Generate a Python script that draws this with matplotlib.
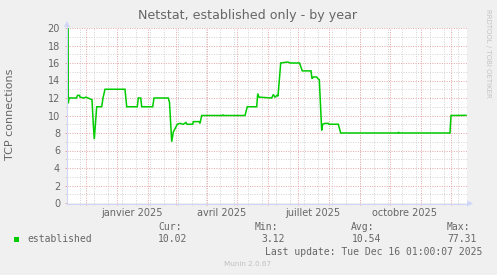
import matplotlib
matplotlib.use("Agg")
import matplotlib.pyplot as plt
import matplotlib.dates as md
import matplotlib.transforms as mtransforms
from matplotlib.patches import Polygon, Rectangle
from matplotlib.lines import Line2D
import pandas as pd

# figure size in pixels (munin year graph)
W, H = 497, 275

# data (established TCP connections)
dates = [
    "2024-11-12 12:00", "2024-11-13 19:00", "2024-11-14 12:00", "2024-11-22 00:00",
    "2024-11-23 00:00", "2024-11-25 00:00", "2024-11-25 12:00", "2024-11-29 12:00",
    "2024-12-01 12:00", "2024-12-03 12:00", "2024-12-07 12:00", "2024-12-08 19:00",
    "2024-12-09 19:00", "2024-12-12 05:00", "2024-12-17 05:00", "2024-12-18 12:00",
    "2024-12-20 12:00", "2025-01-09 12:00", "2025-01-11 05:00", "2025-01-21 19:00",
    "2025-01-22 19:00", "2025-01-25 05:00", "2025-01-26 05:00", "2025-02-06 05:00",
    "2025-02-07 12:00", "2025-02-21 19:00", "2025-02-23 00:00", "2025-02-25 05:00",
    "2025-02-26 19:00", "2025-03-02 19:00", "2025-03-05 12:00", "2025-03-08 19:00",
    "2025-03-11 12:00", "2025-03-12 12:00", "2025-03-18 05:00", "2025-03-18 19:00",
    "2025-03-24 19:00", "2025-03-25 12:00", "2025-03-27 05:00", "2025-04-17 00:00",
    "2025-04-17 12:00", "2025-04-18 00:00", "2025-05-09 12:00", "2025-05-11 19:00",
    "2025-05-21 05:00", "2025-05-22 05:00", "2025-05-23 12:00", "2025-06-05 05:00",
    "2025-06-06 19:00", "2025-06-08 12:00", "2025-06-10 12:00", "2025-06-11 12:00",
    "2025-06-14 05:00", "2025-06-20 05:00", "2025-06-21 19:00", "2025-06-23 12:00",
    "2025-07-03 00:00", "2025-07-05 19:00", "2025-07-14 12:00", "2025-07-15 12:00",
    "2025-07-16 19:00", "2025-07-20 05:00", "2025-07-21 12:00", "2025-07-22 19:00",
    "2025-07-25 05:00", "2025-07-26 05:00", "2025-07-28 12:00", "2025-07-31 19:00",
    "2025-08-01 12:00", "2025-08-10 19:00", "2025-08-13 05:00", "2025-10-09 12:00",
    "2025-10-10 00:00", "2025-10-10 17:00", "2025-11-30 12:00", "2025-12-01 12:00",
    "2025-12-16 12:00",
]
values = [
    77.31, 11.4, 12.0, 12.0,
    12.3, 12.3, 12.1, 12.0,
    12.1, 12.0, 11.8, 9.0,
    7.3, 11.0, 11.0, 12.0,
    13.0, 13.0, 11.0, 11.0,
    12.0, 12.0, 11.0, 11.0,
    12.0, 12.0, 11.5, 7.0,
    8.1, 9.0, 9.1, 9.0,
    9.2, 9.0, 9.0, 9.3,
    9.3, 9.1, 10.0, 10.0,
    10.1, 10.0, 10.0, 11.0,
    11.0, 12.5, 12.1, 12.0,
    12.4, 12.1, 12.3, 12.2,
    16.0, 16.1, 16.1, 16.0,
    16.0, 15.1, 15.1, 14.2,
    14.4, 14.4, 14.2, 14.1,
    8.3, 9.0, 9.1, 9.1,
    9.0, 9.0, 8.0, 8.0,
    8.1, 8.0, 8.0, 10.0,
    10.02,
]

month_labels = ["janvier 2025", "avril 2025", "juillet 2025", "octobre 2025"]
label_pos = ["2025-01-16", "2025-04-16", "2025-07-16", "2025-10-16"]

legend_name = "established"
stat_heads = ["Cur:", "Min:", "Avg:", "Max:"]
stat_values = ["10.02", "3.12", "10.54", "77.31"]

# munin colours
BACK = "#F0F0F0"
FONT = "#666666"
AXIS = "#CFD6F8"
GRID = "#D4D4D4"
MGRID = "#E9A8A8"
LINE = "#00CC00"


def px(x, y):
    # pixel position (from top-left) -> figure fraction
    return x / W, 1 - y / H


fig = plt.figure(figsize=(W / 100, H / 100), dpi=100)
fig.patch.set_facecolor(BACK)

# plot canvas 400x175 px
ax = fig.add_axes([67 / W, (H - 203) / H, 400 / W, 175 / H])
ax.set_facecolor("white")
for s in ax.spines.values():
    s.set_visible(False)

x_start = pd.Timestamp("2024-11-12 12:00")
x_end = x_start + pd.Timedelta(days=400)
ax.set_xlim(x_start, x_end)
ax.set_ylim(0, 20)

# grid, dotted like rrdtool
dots = (0, (1, 1.4))
minor_days = pd.date_range("2024-11-25", "2025-12-20", freq="14D")
month_days = pd.date_range("2024-12-01", "2025-12-01", freq="MS")
for d in minor_days:
    ax.axvline(d, color=GRID, lw=0.72, ls=dots, zorder=1)
for v in range(1, 20, 2):
    ax.axhline(v, color=GRID, lw=0.72, ls=dots, zorder=1)
for d in month_days:
    ax.axvline(d, color=MGRID, lw=0.72, ls=dots, zorder=2)
for v in range(2, 21, 2):
    ax.axhline(v, color=MGRID, lw=0.72, ls=dots, zorder=2)

# data line
ax.plot(pd.to_datetime(dates), values, color=LINE, lw=1.1, zorder=5,
        solid_joinstyle="miter", clip_on=True)

# ticks
ax.set_yticks(range(0, 21, 2))
ax.set_yticks(range(1, 20, 2), minor=True)
ax.set_xticks(month_days)
ax.set_xticks(minor_days, minor=True)
ax.set_xticklabels([])
ax.tick_params(which="major", color=MGRID, length=1.6, width=0.72)
ax.tick_params(which="minor", color=GRID, length=1.6, width=0.72)
ax.tick_params(axis="y", which="major", labelsize=7, labelcolor=FONT, pad=3.4)

tr = mtransforms.blended_transform_factory(ax.transData, ax.transAxes)
for lab, pos in zip(month_labels, label_pos):
    ax.text(pd.Timestamp(pos), -9.7 / 175, lab, transform=tr, ha="center", va="center",
            fontsize=7, color=FONT)

# axis lines and arrows
fig.add_artist(Line2D([67 / W, 67 / W], [1 - 203.5 / H, 1 - 24 / H], color=AXIS, lw=0.8))
fig.add_artist(Line2D([66.5 / W, 469 / W], [1 - 203.5 / H, 1 - 203.5 / H], color=AXIS, lw=0.8))
fig.add_artist(Polygon([px(64, 27), px(70, 27), px(67, 21)], closed=True,
                       color=AXIS, lw=0))
fig.add_artist(Polygon([px(467, 200.5), px(467, 206.5), px(473, 203.5)], closed=True,
                       color=AXIS, lw=0))

# titles
fig.text(*px(248, 16), "Netstat, established only - by year", ha="center", va="center",
         fontsize=9.1, color=FONT)
fig.text(*px(10, 114), "TCP connections", ha="center", va="center", rotation=90,
         fontsize=8, color=FONT)
fig.text(*px(488, 53), "RRDTOOL / TOBI OETIKER", ha="center", va="center", rotation=270,
         fontsize=5, color="#C4C4C4")

# legend
mono = "DejaVu Sans Mono"
fig.add_artist(Rectangle(px(14, 241.5), 5 / W, 5 / H, color=LINE, lw=0))
fig.text(*px(27, 239), legend_name, ha="left", va="center", family=mono,
         fontsize=7, color=FONT)
head_x = [158, 255, 351, 447]
val_x = [158, 261, 352, 447]
for hx, h in zip(head_x, stat_heads):
    fig.text(*px(hx, 227), h, ha="left", va="center", family=mono, fontsize=7, color=FONT)
for vx, v in zip(val_x, stat_values):
    fig.text(*px(vx, 239), v, ha="left", va="center", family=mono, fontsize=7, color=FONT)
fig.text(*px(482.5, 252), "Last update: Tue Dec 16 01:00:07 2025", ha="right", va="center",
         family=mono, fontsize=7, color=FONT)
fig.text(*px(247.5, 264), "Munin 2.0.67", ha="center", va="center",
         fontsize=5.2, color="#C0C0C0")

fig.savefig("out.png", dpi=100, facecolor=BACK)
